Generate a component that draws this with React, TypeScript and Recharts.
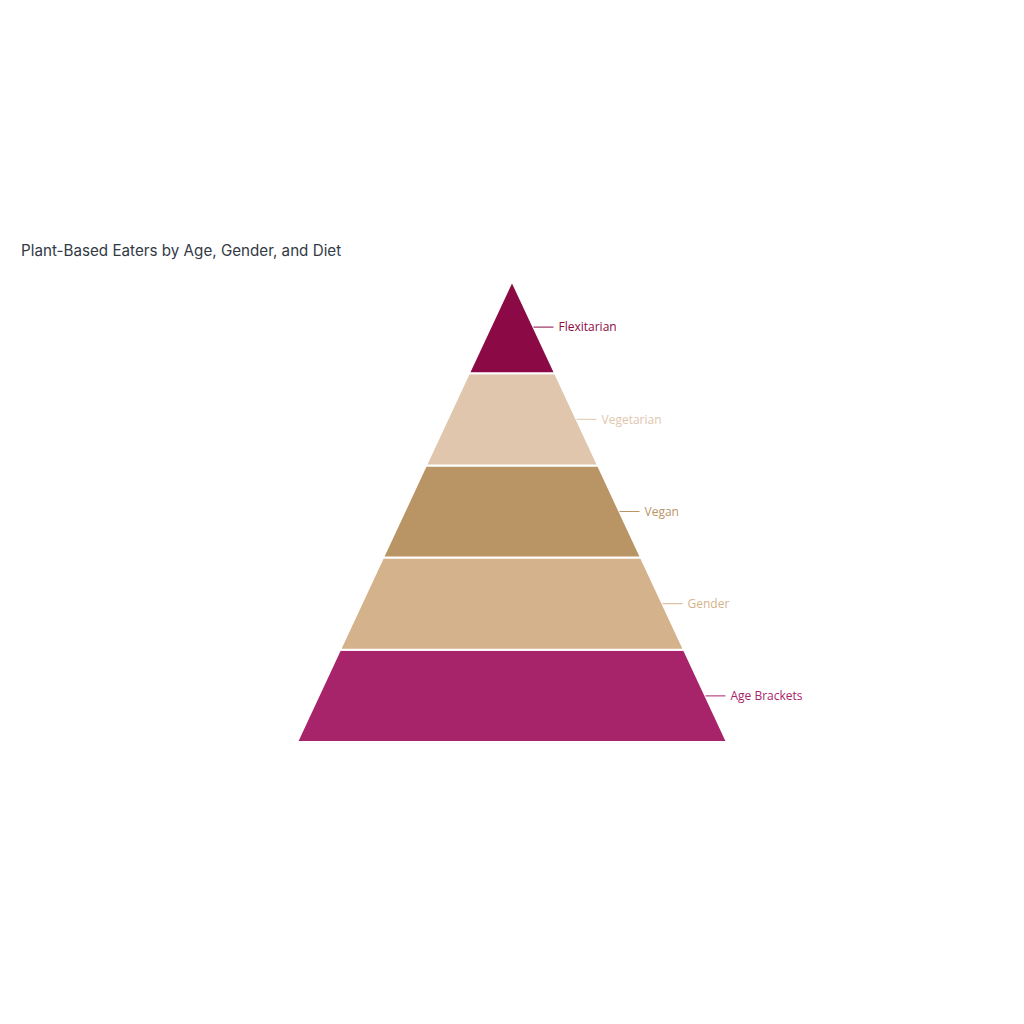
import { FunnelChart, Funnel, Cell, Trapezoid } from 'recharts';

// Pyramid tiers, top to bottom. Widths grow evenly, so values step 1..5.
const tierNames = ['Age Brackets', 'Gender', 'Vegan', 'Vegetarian', 'Flexitarian'];
const tierValues = [5, 4, 3, 2, 1];
const tierColors = ['#A8246A', '#D4B38C', '#B99565', '#DFC6AD', '#8B0A45'];

const data = tierNames.map((name, i) => ({ name, value: tierValues[i] }));

// Trapezoid plus a short leader line and label off the right edge.
const TierShape = (props: any) => {
  const { x, y, upperWidth, lowerWidth, height, fill, name } = props;
  const cx = x + upperWidth / 2;
  const midY = y + height / 2;
  const edgeX = cx + (upperWidth + lowerWidth) / 4;
  return (
    <g>
      <Trapezoid
        x={x}
        y={y}
        upperWidth={upperWidth}
        lowerWidth={lowerWidth}
        height={height}
        fill={fill}
        stroke="#ffffff"
        strokeWidth={2}
      />
      <line x1={edgeX} y1={midY} x2={edgeX + 20} y2={midY} stroke={fill} strokeWidth={1} />
      <text
        x={edgeX + 25}
        y={midY}
        dy="0.35em"
        fill={fill}
        fontSize={12}
        fontFamily="'Open Sans', 'Noto Sans', sans-serif"
      >
        {name}
      </text>
    </g>
  );
};

export default function App() {
  return (
    <div style={{ position: 'absolute', left: 0, top: 0, width: 1024, height: 1024, background: '#fff' }}>
      <div
        style={{
          position: 'absolute',
          left: 21,
          top: 241,
          fontFamily: "'Inter', 'Noto Sans', sans-serif",
          fontSize: 15.2,
          color: '#333a45',
        }}
      >
        Plant-Based Eaters by Age, Gender, and Diet
      </div>
      <FunnelChart width={1024} height={1024} margin={{ top: 281, right: 297, bottom: 282, left: 297 }}>
        <Funnel
          data={data}
          dataKey="value"
          nameKey="name"
          reversed
          lastShapeType="triangle"
          isAnimationActive={false}
          shape={TierShape}
        >
          {data.map((d, i) => (
            <Cell key={d.name} fill={tierColors[i]} />
          ))}
        </Funnel>
      </FunnelChart>
    </div>
  );
}
